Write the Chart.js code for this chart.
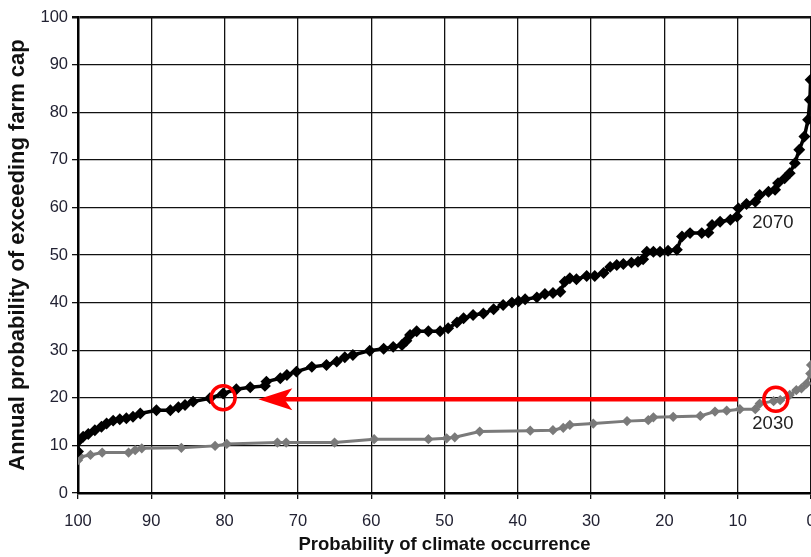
<!DOCTYPE html>
<html lang="en">
<head>
    <meta charset="UTF-8">
    <title>Annual probability of exceeding farm cap</title>
    <script src="https://cdn.jsdelivr.net/npm/chart.js"></script>
    <style>
        body {
            margin: 0;
            background-color: #ffffff;
            overflow: hidden;
        }

        /* wider than the window so the plot runs right up to the edge */
        .chart-box {
            width: 830px;
            height: 557px;
        }
    </style>
</head>
<body>
    <div class="chart-box">
        <canvas id="capChart"></canvas>
    </div>

    <script>
        // 2070 curve: probability of climate occurrence vs annual probability of exceeding cap
        const climate2070 = [100, 100, 99.3, 98.6, 97.7, 96.8, 96.1, 95.2, 94.3, 93.4, 92.5, 91.5, 89.3, 87.4,
            86.3, 85.4, 84.3, 82.0, 80.2, 78.4, 76.5, 74.5, 74.3, 72.4, 71.5, 70.2, 68.1, 66.1, 64.7, 63.6,
            62.5, 60.2, 58.3, 57.0, 55.8, 55.2, 54.7, 53.8, 52.2, 50.6, 49.5, 48.3, 47.4, 46.1, 44.7, 43.3,
            42.0, 40.8, 39.9, 39.0, 37.4, 36.3, 35.2, 34.2, 33.6, 32.9, 32.0, 30.6, 29.5, 28.3, 27.4, 26.5,
            25.6, 24.5, 23.6, 22.9, 22.4, 21.5, 20.6, 19.5, 18.3, 17.6, 16.5, 14.9, 14.0, 13.5, 12.4, 11.0,
            10.1, 9.9, 8.8, 7.6, 7.0, 5.8, 4.9, 4.5, 3.6, 2.9, 2.2, 1.6, 0.9, 0.4, 0.15, 0.05];
        const cap2070 = [8.7, 10.8, 11.8, 12.4, 13.2, 13.9, 14.6, 15.2, 15.5, 15.7, 16.0, 16.7, 17.4, 17.4,
            18.0, 18.5, 19.2, 19.9, 20.9, 21.8, 22.2, 22.5, 23.4, 24.1, 24.8, 25.5, 26.5, 26.9, 27.6, 28.5,
            29.0, 29.9, 30.3, 30.7, 31.1, 32.0, 33.2, 34.0, 34.0, 34.0, 34.6, 35.8, 36.7, 37.4, 37.7, 38.6,
            39.5, 40.0, 40.3, 40.7, 41.1, 41.8, 42.0, 42.3, 44.4, 45.1, 44.9, 45.6, 45.6, 46.2, 47.5, 47.9,
            48.1, 48.4, 48.6, 49.1, 50.7, 50.7, 50.7, 50.9, 51.1, 53.9, 54.6, 54.6, 54.7, 56.3, 57.0, 57.4,
            58.1, 59.8, 60.7, 61.2, 62.6, 63.3, 63.7, 65.1, 66.1, 67.2, 69.3, 72.1, 74.9, 78.4, 82.6, 86.8];

        // 2030 curve
        const climate2030 = [100, 99.7, 98.3, 96.7, 93.1, 92.2, 91.3, 85.9, 81.3, 79.7, 72.8, 71.6, 65.0,
            59.6, 52.2, 49.7, 48.6, 45.2, 38.3, 35.2, 33.8, 32.9, 29.7, 25.1, 22.2, 21.5, 18.8, 15.1, 13.1,
            11.5, 9.7, 7.6, 7.0, 5.1, 4.2, 2.9, 2.0, 1.3, 0.6, 0.1, 0];
        const cap2030 = [6.9, 7.6, 8.0, 8.5, 8.5, 9.0, 9.4, 9.5, 9.9, 10.3, 10.6, 10.6, 10.6,
            11.3, 11.3, 11.5, 11.7, 12.9, 13.1, 13.2, 13.7, 14.3, 14.6, 15.1, 15.3, 15.9, 16.0, 16.2, 17.1,
            17.3, 17.6, 17.6, 18.8, 19.3, 19.5, 20.6, 21.6, 22.0, 23.0, 25.1, 26.9];

        const xTicks = [100, 90, 80, 70, 60, 50, 40, 30, 20, 10, 0];
        const yTicks = [0, 10, 20, 30, 40, 50, 60, 70, 80, 90, 100];

        // the 2030 reading carried across to 2070
        const arrowFrom = { x: 10, y: 19.7 };
        const arrowTo = { x: 75.4, y: 19.7 };
        const markedPoints = [{ x: 80.2, y: 20.0 }, { x: 4.8, y: 19.7 }];
        const curveLabels = [
            { text: '2070', x: 5.2, y: 56.7 },
            { text: '2030', x: 5.2, y: 14.5 }
        ];

        const fontFamily = '"Liberation Sans", Arial, sans-serif';
        const toPoints = (xs, ys) => xs.map((x, i) => ({ x: x, y: ys[i] }));

        const overlay = {
            id: 'overlay',
            afterDatasetsDraw(chart) {
                const c = chart.ctx;
                const sx = chart.scales.x;
                const sy = chart.scales.y;
                c.save();

                // arrow shaft
                const x1 = sx.getPixelForValue(arrowFrom.x);
                const x2 = sx.getPixelForValue(arrowTo.x);
                const ay = sy.getPixelForValue(arrowFrom.y);
                c.strokeStyle = '#ff0000';
                c.lineWidth = 4.5;
                c.beginPath();
                c.moveTo(x1, ay);
                c.lineTo(x2 + 20, ay);
                c.stroke();

                // arrow head
                c.fillStyle = '#ff0000';
                c.beginPath();
                c.moveTo(x2, ay);
                c.lineTo(x2 + 34, ay - 11);
                c.lineTo(x2 + 26, ay);
                c.lineTo(x2 + 34, ay + 11);
                c.closePath();
                c.fill();

                // circles
                c.lineWidth = 3.5;
                markedPoints.forEach(p => {
                    c.beginPath();
                    c.arc(sx.getPixelForValue(p.x), sy.getPixelForValue(p.y), 12, 0, Math.PI * 2);
                    c.stroke();
                });

                // curve names
                c.fillStyle = '#222222';
                c.font = '18.5px ' + fontFamily;
                c.textAlign = 'center';
                c.textBaseline = 'middle';
                curveLabels.forEach(l => {
                    c.fillText(l.text, sx.getPixelForValue(l.x), sy.getPixelForValue(l.y));
                });
                c.restore();
            }
        };

        const gridLine = ctx => (ctx.tick && ctx.tick.value === 100 ? 2.5 : 1.3);

        new Chart(document.getElementById('capChart'), {
            type: 'scatter',
            data: {
                datasets: [{
                    label: '2070',
                    data: toPoints(climate2070, cap2070),
                    showLine: true,
                    borderColor: '#000000',
                    backgroundColor: '#000000',
                    borderWidth: 3.5,
                    pointStyle: 'rectRot',
                    pointRadius: 3.5
                }, {
                    label: '2030',
                    data: toPoints(climate2030, cap2030),
                    showLine: true,
                    borderColor: '#7a7a7a',
                    backgroundColor: '#7a7a7a',
                    borderWidth: 3,
                    pointStyle: 'rectRot',
                    pointRadius: 3
                }]
            },
            options: {
                responsive: true,
                maintainAspectRatio: false,
                animation: false,
                layout: {
                    padding: { top: 17, right: 19, left: 0, bottom: 0 }
                },
                plugins: {
                    legend: { display: false },
                    tooltip: { enabled: false }
                },
                scales: {
                    x: {
                        type: 'linear',
                        reverse: true,
                        min: 0,
                        max: 100,
                        afterFit: scale => { scale.height = 64; },
                        afterBuildTicks: scale => { scale.ticks = xTicks.map(v => ({ value: v })); },
                        grid: {
                            color: '#111111',
                            lineWidth: 1.3,
                            tickLength: 6
                        },
                        border: { color: '#000000', width: 2.5 },
                        ticks: {
                            color: '#222233',
                            padding: 13,
                            font: { family: fontFamily, size: 16.5 }
                        },
                        title: {
                            display: true,
                            text: 'Probability of climate occurrence',
                            color: '#111111',
                            padding: { top: 0, bottom: 1 },
                            font: { family: fontFamily, size: 18.5, weight: 'bold' }
                        }
                    },
                    y: {
                        type: 'linear',
                        min: 0,
                        max: 100,
                        afterFit: scale => { scale.width = 78; },
                        afterBuildTicks: scale => { scale.ticks = yTicks.map(v => ({ value: v })); },
                        grid: {
                            color: '#111111',
                            lineWidth: gridLine,
                            tickLength: 6
                        },
                        border: { color: '#000000', width: 2.5 },
                        ticks: {
                            color: '#222233',
                            padding: 4,
                            font: { family: fontFamily, size: 16.5 }
                        },
                        title: {
                            display: true,
                            text: 'Annual probability of exceeding farm cap',
                            color: '#111111',
                            padding: { top: 5, bottom: 0 },
                            font: { family: fontFamily, size: 22, weight: 'bold' }
                        }
                    }
                }
            },
            plugins: [overlay]
        });
    </script>
</body>
</html>
